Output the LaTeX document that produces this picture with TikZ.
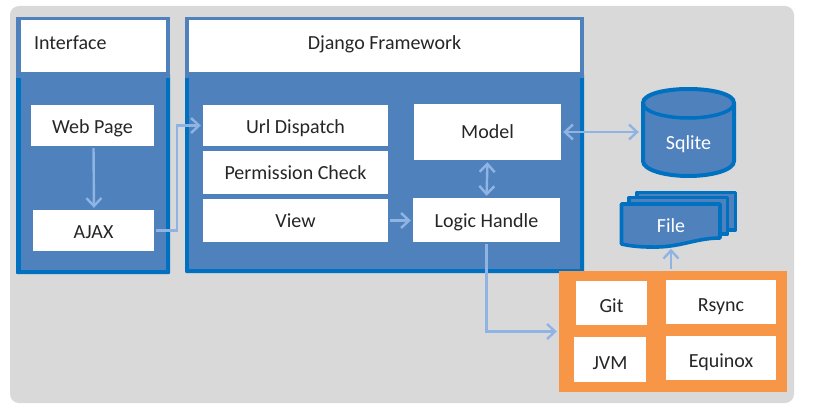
\documentclass[tikz,border=0pt]{standalone}
\usepackage{fontspec}
\setmainfont{Carlito}
\usetikzlibrary{arrows.meta,calc}
\definecolor{panelblue}{HTML}{4F81BD}
\definecolor{edgeblue}{HTML}{0070C0}
\definecolor{linkblue}{HTML}{8FB4E3}
\definecolor{backgray}{HTML}{D9D9D9}
\definecolor{orangefill}{HTML}{F79646}
\tikzset{
  drop/.style={text height=2*#1 pt,text depth=0pt},
  whitebox/.style={fill=white,draw=none,inner sep=0pt,font=\fontsize{20}{22}\selectfont,text=black!85},
  ghost/.style={inner sep=0pt,font=\fontsize{20}{22}\selectfont,text=white},
  link/.style={draw=linkblue,line width=2.4pt,shorten >=2pt,shorten <=2pt,
    arrows={-Straight Barb[length=8pt,width=15pt,line width=2.4pt]}},
  biglink/.style={draw=linkblue,line width=2.4pt,shorten >=2pt,shorten <=2pt,
    arrows={Straight Barb[length=8pt,width=15pt,line width=2.4pt]-Straight Barb[length=8pt,width=15pt,line width=2.4pt]}},
  sheet/.style={fill=panelblue,draw=edgeblue,line width=3.6pt,line join=round},
}
\begin{document}
\begin{tikzpicture}[x=1pt,y=-1pt]
\useasboundingbox (0,0) rectangle (813,417);
\fill[white] (0,0) rectangle (813,417);
\fill[backgray,rounded corners=9pt] (10,6) rectangle (794,403);
% panels
\fill[edgeblue,rounded corners=1pt] (16,74) rectangle (170,274);
\fill[panelblue] (21,78) rectangle (166,270);
\fill[panelblue] (16,17) rectangle (170,78);
\fill[edgeblue,rounded corners=1pt] (185,74) rectangle (584,273);
\fill[panelblue] (189,78) rectangle (580,269);
\fill[panelblue] (185,17) rectangle (584,78);
% header boxes
\node[whitebox,drop=2.8,minimum width=145pt,minimum height=52pt,text width=119pt,align=left] (iface) at (93.5,46.5) {Interface};
\node[whitebox,drop=2.8,minimum width=391pt,minimum height=52pt] (django) at (384.5,46.5) {Django Framework};
% inner boxes
\node[whitebox,drop=8,minimum width=123pt,minimum height=41pt] (web) at (92.5,125.5) {Web Page};
\node[whitebox,drop=8,minimum width=121pt,minimum height=41pt] (ajax) at (93.5,230.5) {AJAX};
\node[whitebox,drop=8,minimum width=185pt,minimum height=41pt] (url) at (295.5,125.5) {Url Dispatch};
\node[whitebox,drop=7,minimum width=185pt,minimum height=43pt] (perm) at (295.5,172.5) {Permission Check};
\node[whitebox,drop=7,minimum width=185pt,minimum height=43pt] (view) at (295.5,220.5) {View};
\node[whitebox,drop=7,minimum width=147pt,minimum height=56pt] (model) at (487.5,132) {Model};
\node[whitebox,drop=7,minimum width=147pt,minimum height=44pt] (logic) at (486.5,220) {Logic Handle};
% orange group
\fill[orangefill] (559,271) rectangle (787,392);
\node[inner sep=0pt,minimum width=228pt,minimum height=121pt] (tools) at (673,331.5) {};
\node[whitebox,drop=9.3,minimum width=71pt,minimum height=44pt] (git) at (611.5,303) {Git};
\node[whitebox,drop=9.6,minimum width=110pt,minimum height=44pt] (rsync) at (721,302) {Rsync};
\node[whitebox,drop=9.5,minimum width=72pt,minimum height=45pt] (jvm) at (610,359.5) {JVM};
\node[whitebox,drop=9.3,minimum width=110pt,minimum height=44pt] (equinox) at (721,358) {Equinox};
% cylinder
\path[fill=panelblue,draw=edgeblue,line width=4pt]
  (643,103) -- (643,161) .. controls (643,170) and (665,176) .. (688.5,176)
  .. controls (712,176) and (734,170) .. (734,161) -- (734,103)
  .. controls (734,94) and (712,89) .. (688.5,89)
  .. controls (665,89) and (643,94) .. (643,103) -- cycle;
\draw[edgeblue,line width=3.5pt]
  (643,103) .. controls (643,112) and (665,118) .. (688.5,118)
  .. controls (712,118) and (734,112) .. (734,103);
\node[ghost,drop=6,minimum width=95pt] (sqlite) at (688.5,143) {Sqlite};
% file stack
\path[sheet] (637,192.5) rectangle (735.5,230);
\path[sheet] (629,197.5) rectangle (727.5,234);
\path[sheet] (621.5,204) -- (720,204) -- (720,238)
  .. controls (695,238) and (680,248) .. (650,247)
  .. controls (640,247) and (630,246) .. (621.5,244) -- cycle;
\node[ghost,drop=6.3] (file) at (671,226) {File};
% connectors
\draw[link] ([xshift=1pt]web.south) -- ([xshift=0.5pt]ajax.north);
\draw[link] (ajax.east) -- ++(23,0) |- (url.west);
\draw[link] (view.east) -- (logic.west |- view.east);
\draw[biglink] (model.south) -- (logic.north);
\draw[biglink] (model.east) -- (sqlite.west |- model.east);
\draw[link] (logic.south) |- (tools.west);
\draw[link] (file.center |- tools.north) -- ($(file.center |- tools.north)+(0,-24)$);
\end{tikzpicture}
\end{document}
